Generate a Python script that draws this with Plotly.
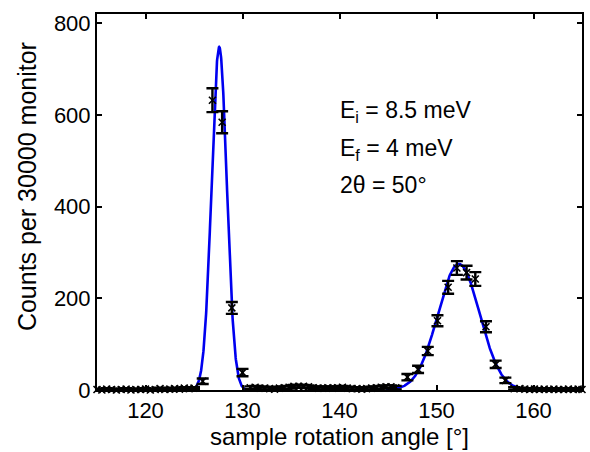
import numpy as np
import plotly.graph_objects as go

# ---- measured points (angle in deg, counts per 30000 monitor) ----
bg_left_x = [115.0, 115.5, 116.0, 116.5, 117.0, 117.5, 118.0, 118.5, 119.0, 119.5, 120.0,
             120.5, 121.0, 121.5, 122.0, 122.5, 123.0, 123.5, 124.0, 124.5, 125.0]
bg_left_y = [1, 0, 2, 1, 0, 1, 2, 0, 1, 1, 2, 0, 1, 3, 1, 2, 3, 2, 4, 3, 4]
bg_left_err = [2, 2, 2, 2, 2, 2, 2, 2, 2, 2, 2, 2, 2, 2, 2, 2, 2, 2, 2, 2, 2]

peak1_x = [125.9, 126.9, 127.9, 128.9, 130.0]
peak1_y = [19, 632, 584, 179, 38]
peak1_err = [6, 26, 24, 13, 8]

bg_mid_x = [130.8, 131.3, 131.8, 132.3, 132.8, 133.3, 133.8, 134.3, 134.8, 135.3, 135.8,
            136.3, 136.8, 137.3, 137.8, 138.3, 138.8, 139.3, 139.8, 140.3, 140.8, 141.3,
            141.8, 142.3, 142.8, 143.3, 143.8, 144.3, 144.8, 145.3]
bg_mid_y = [5, 6, 4, 4, 3, 2, 4, 5, 6, 8, 8, 8, 7, 5, 4, 4, 5, 4, 5, 6, 4, 3,
            3, 2, 3, 4, 5, 6, 7, 7]
bg_mid_err = [3, 3, 3, 3, 3, 3, 3, 3, 3, 3, 3, 3, 3, 3, 3, 3, 3, 3, 3, 3, 3, 3,
              3, 3, 3, 3, 3, 3, 3, 3]

peak2_x = [145.8, 147.0, 148.1, 149.1, 150.1, 151.2, 152.1, 153.1, 154.0, 155.1, 156.1, 157.1, 158.0]
peak2_y = [5, 28, 45, 85, 151, 224, 266, 256, 242, 138, 56, 21, 3]
peak2_err = [4, 7, 8, 9, 12, 14, 15, 15, 15, 12, 8, 6, 3]

bg_right_x = [158.6, 159.1, 159.6, 160.1, 160.6, 161.1, 161.6, 162.1, 162.6, 163.1, 163.6,
              164.1, 164.6, 165.0]
bg_right_y = [3, 2, 1, 2, 1, 2, 1, 2, 1, 1, 2, 1, 2, 1]
bg_right_err = [2, 2, 2, 2, 2, 2, 2, 2, 2, 2, 2, 2, 2, 2]

# ---- Gaussian fit parameters ----
fit1_center, fit1_amp, fit1_sigma = 127.6, 748.0, 0.78
fit2_center, fit2_amp, fit2_sigma = 152.3, 275.0, 2.15

x_ticks = [120, 130, 140, 150, 160]
y_ticks = [0, 200, 400, 600, 800]

all_x = bg_left_x + peak1_x + bg_mid_x + peak2_x + bg_right_x
all_y = bg_left_y + peak1_y + bg_mid_y + peak2_y + bg_right_y
all_err = bg_left_err + peak1_err + bg_mid_err + peak2_err + bg_right_err

FONT = "Arial, Liberation Sans, sans-serif"

fig = go.Figure()

xf1 = np.linspace(fit1_center - 3.0, fit1_center + 3.0, 300)
yf1 = fit1_amp * np.exp(-((xf1 - fit1_center) ** 2) / (2 * fit1_sigma ** 2))
xf2 = np.linspace(fit2_center - 7.5, fit2_center + 7.5, 400)
yf2 = fit2_amp * np.exp(-((xf2 - fit2_center) ** 2) / (2 * fit2_sigma ** 2))

for xf, yf in [(xf1, yf1), (xf2, yf2)]:
    fig.add_trace(go.Scatter(x=xf, y=yf, mode="lines",
                             line=dict(color="#0000f0", width=2.6),
                             showlegend=False, hoverinfo="skip"))

fig.add_trace(go.Scatter(
    x=all_x, y=all_y, mode="markers",
    marker=dict(symbol="x-thin", size=7, color="black",
                line=dict(color="black", width=1.6)),
    error_y=dict(type="data", array=all_err, visible=True,
                 color="black", thickness=2.4, width=6),
    cliponaxis=False, showlegend=False))

fig.update_layout(
    width=590, height=452,
    margin=dict(l=97, r=6, t=14, b=62),
    paper_bgcolor="white", plot_bgcolor="white",
    font=dict(family=FONT, color="black", size=20),
    xaxis=dict(range=[115, 165], tickvals=x_ticks, ticks="inside", ticklen=5,
               tickwidth=1.5, tickcolor="black", showline=True, linewidth=2,
               linecolor="black", mirror="ticks", showgrid=False, zeroline=False,
               tickfont=dict(size=22, family=FONT),
               title=dict(text="sample rotation angle [°]",
                          font=dict(size=24, family=FONT), standoff=4)),
    yaxis=dict(range=[0, 820], tickvals=y_ticks, ticks="inside", ticklen=5,
               tickwidth=1.5, tickcolor="black", showline=True, linewidth=2,
               linecolor="black", mirror="ticks", showgrid=False, zeroline=False,
               tickfont=dict(size=22, family=FONT)),
)

# y-axis title placed as rotated text
fig.add_annotation(x=-0.144, y=0.54, xref="paper", yref="paper",
                   text="Counts per 30000 monitor", textangle=-90, showarrow=False,
                   xanchor="center", yanchor="middle",
                   font=dict(size=25, family=FONT, color="black"))

notes = [("E<sub>i</sub> = 8.5 meV", 607), ("E<sub>f</sub> = 4 meV", 524), ("2θ = 50°", 446)]
for txt, yv in notes:
    fig.add_annotation(x=139.85, y=yv, xref="x", yref="y", text=txt, showarrow=False,
                       xanchor="left", yanchor="middle",
                       font=dict(size=23, family=FONT, color="black"))

fig.write_html("out.html")
